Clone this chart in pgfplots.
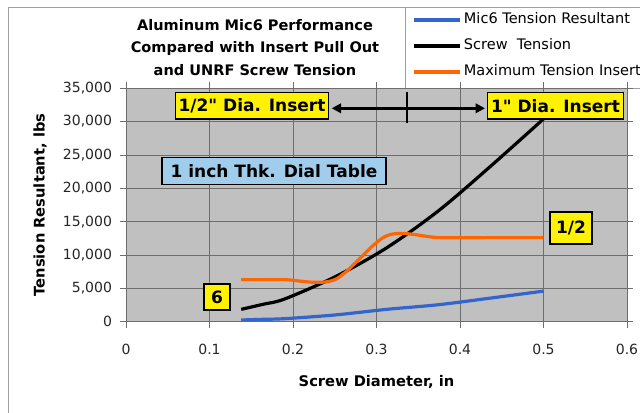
\documentclass[border=0pt]{standalone}
\usepackage{pgfplots}
\pgfplotsset{compat=1.18}
\usepackage{fontspec}
\setmainfont{DejaVu Sans}[Ligatures=TeXOff]
\usetikzlibrary{arrows.meta}
\definecolor{plotgray}{RGB}{192,192,192}
\definecolor{gridc}{RGB}{110,110,110}
\definecolor{serblue}{RGB}{51,102,204}
\definecolor{serorange}{RGB}{255,102,0}
\definecolor{boxblue}{RGB}{160,205,235}
\definecolor{bordergray}{RGB}{160,160,160}
\begin{document}
\begin{tikzpicture}
\useasboundingbox (0,0) rectangle (480pt,309.75pt);
\clip (0,0) rectangle (480pt,309.75pt);
\fill[white] (0,0) rectangle (480pt,309.75pt);
\begin{scope}[shift={(0pt,309.75pt)}, x=0.75pt, y=-0.75pt]
\draw[bordergray, line width=0.75pt] (8,420) -- (8,7.3) -- (650,7.3);
\draw[bordergray, line width=0.75pt, fill=white] (405,7.3) rectangle (650,88.3);
\end{scope}
\begin{axis}[
  scale only axis,
  width=375.75pt, height=175.05pt,
  at={(94.5pt,68.5pt)}, anchor=south west,
  xmin=0, xmax=0.6, ymin=0, ymax=35000,
  scaled y ticks=false,
  xtick={0,0.1,0.2,0.3,0.4,0.5,0.6},
  xticklabels={0,0.1,0.2,0.3,0.4,0.5,0.6},
  ytick={0,5000,10000,15000,20000,25000,30000,35000},
  yticklabels={0,{5,000},{10,000},{15,000},{20,000},{25,000},{30,000},{35,000}},
  grid=major,
  major grid style={gridc, line width=0.5pt},
  axis background/.style={fill=plotgray},
  axis line style={gridc, line width=0.6pt},
  tick align=outside,
  major tick length=4.5pt,
  tick style={gridc, line width=0.6pt},
  ticklabel style={font=\fontsize{10.5}{12}\selectfont, text=black!85},
  xticklabel style={yshift=-9pt},
  yticklabel style={xshift=-2.5pt},
  xlabel={\bfseries Screw Diameter, in},
  ylabel={\bfseries Tension Resultant, lbs},
  label style={font=\fontsize{11}{13}\selectfont},
  xlabel style={at={(axis description cs:0.5,-0.2584)}, anchor=center},
  ylabel style={at={(axis description cs:-0.1717,0.5)}, anchor=center},
  legend style={at={(axis description cs:0.5569,1.3483)}, anchor=north west,
    draw=none, fill=none,
    inner xsep=5pt, inner ysep=4.5pt, row sep=9pt,
    font=\fontsize{10.9}{12}\selectfont,
    nodes={inner xsep=1.5pt, inner ysep=0pt, text height=8pt, text depth=2.5pt}},
  legend cell align=left,
  legend image code/.code={\draw[#1, line width=3pt] (0pt,0pt) -- (34.5pt,0pt);},
  clip=false,
]
\addplot[serblue, line width=2.4pt, smooth] coordinates {
(0.138,250) (0.164,350) (0.19,450) (0.25,1000) (0.3125,1850) (0.375,2550) (0.4375,3550) (0.5,4580)};
\addlegendentry{Mic6 Tension Resultant}
\addplot[black, line width=2.4pt, smooth] coordinates {
(0.138,1850) (0.164,2600) (0.19,3400) (0.25,6700) (0.3125,11100) (0.375,16700) (0.4375,23400) (0.5,30400)};
\addlegendentry{Screw\ \ Tension}
\addplot[serorange, line width=2.4pt, smooth] coordinates {
(0.138,6300) (0.164,6300) (0.19,6300) (0.25,6300) (0.3125,12900) (0.375,12600) (0.4375,12600) (0.5,12600)};
\addlegendentry{Maximum Tension Insert}
\end{axis}
\begin{scope}[shift={(0pt,309.75pt)}, x=0.75pt, y=-0.75pt]
\node[align=center, font=\fontsize{10.9}{16.9}\selectfont\bfseries] at (255,47.5)
  {Aluminum Mic6 Performance\\Compared with Insert Pull Out\\and UNRF Screw Tension};
\tikzset{ann/.style={draw=black, line width=1pt, font=\fontsize{12.75}{14}\selectfont\bfseries, inner xsep=2.5pt, inner ysep=0pt, minimum height=20pt}}
\node[ann, fill=yellow] at (252,105.7) {1/2" Dia. Insert};
\node[ann, fill=yellow, anchor=west] at (487,105.7) {1" Dia. Insert};
\draw[line width=2.2pt, {Triangle[length=7pt,width=7pt]}-{Triangle[length=7pt,width=7pt]}] (331.7,108.3) -- (485,108.3);
\draw[line width=1.6pt] (407.3,92.3) -- (407.3,123.3);
\node[ann, fill=boxblue, minimum width=168pt] at (274,171) {1 inch Thk. Dial Table};
\node[ann, fill=yellow, minimum width=19.5pt, minimum height=19.5pt] at (217,297) {6};
\node[ann, fill=yellow, minimum width=31.5pt, minimum height=24pt] at (571,228) {1/2};
\end{scope}
\end{tikzpicture}
\end{document}
